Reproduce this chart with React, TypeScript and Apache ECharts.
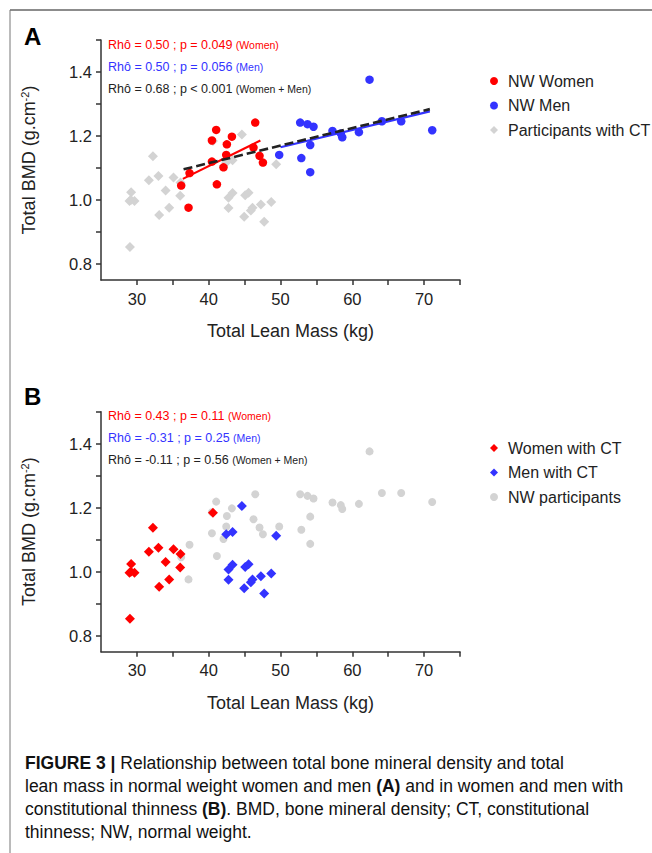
import React, { useEffect, useRef } from "react";
import * as echarts from "echarts";

// ---------- data ----------
const xTicks = [30, 35, 40, 45, 50, 55, 60, 65, 70, 75];
const xLabels = [30, 40, 50, 60, 70];
const yTicks = [0.8, 0.9, 1.0, 1.1, 1.2, 1.3, 1.4, 1.5];
const yLabels = [0.8, 1.0, 1.2, 1.4];

// normal weight women: [lean mass kg, BMD]
const nwWomen = [
  [36.17, 1.045], [37.33, 1.084], [37.19, 0.976], [40.45, 1.186], [41.04, 1.219],
  [40.45, 1.12], [41.14, 1.049], [42.53, 1.174], [43.23, 1.198], [42.44, 1.141],
  [42.06, 1.102], [46.48, 1.242], [46.24, 1.164], [47.08, 1.138], [47.55, 1.117],
];
// normal weight men
const nwMen = [
  [49.82, 1.141], [52.74, 1.242], [53.76, 1.237], [54.6, 1.229], [54.14, 1.172],
  [52.9, 1.131], [54.14, 1.087], [62.4, 1.376], [57.24, 1.216], [58.4, 1.208],
  [58.6, 1.196], [60.92, 1.212], [64.12, 1.246], [66.81, 1.246], [71.13, 1.218],
];
// constitutional thinness women
const ctWomen = [
  [40.59, 1.184], [32.23, 1.137], [31.67, 1.062], [33.0, 1.075], [35.1, 1.07],
  [36.07, 1.055], [34.0, 1.03], [36.03, 1.013], [29.2, 1.024], [29.17, 1.0],
  [29.67, 0.997], [28.97, 0.997], [34.5, 0.976], [33.1, 0.953], [29.03, 0.853],
];
// constitutional thinness men
const ctMen = [
  [44.62, 1.205], [43.32, 1.124], [42.44, 1.117], [49.4, 1.112], [43.32, 1.022],
  [42.76, 1.007], [45.08, 1.015], [45.55, 1.023], [42.76, 0.975], [46.1, 0.976],
  [45.87, 0.967], [47.27, 0.986], [48.71, 0.994], [44.94, 0.948], [47.73, 0.932],
];

// regression lines (panel A)
const womenFit = [[36.4, 1.066], [47.2, 1.186]];
const menFit = [[50.0, 1.165], [70.8, 1.277]];
const allFit = [[36.5, 1.096], [70.8, 1.284]];

const statsA = [
  ["Rhô = 0.50 ; p = 0.049 ", "(Women)"],
  ["Rhô = 0.50 ; p = 0.056 ", "(Men)"],
  ["Rhô = 0.68 ; p < 0.001 ", "(Women + Men)"],
];
const statsB = [
  ["Rhô = 0.43 ; p = 0.11 ", "(Women)"],
  ["Rhô = -0.31 ; p = 0.25 ", "(Men)"],
  ["Rhô = -0.11 ; p = 0.56 ", "(Women + Men)"],
];

const legendA = ["NW Women", "NW Men", "Participants with CT"];
const legendB = ["Women with CT", "Men with CT", "NW participants"];

const xName = "Total Lean Mass (kg)";
const panelLabels = ["A", "B"];

// caption: segments [text, bold]
const captionLines: [string, boolean][][] = [
  [["FIGURE 3 | ", true], ["Relationship between total bone mineral density and total", false]],
  [["lean mass in normal weight women and men ", false], ["(A)", true], [" and in women and men with", false]],
  [["constitutional thinness ", false], ["(B)", true], [". BMD, bone mineral density; CT, constitutional", false]],
  [["thinness; NW, normal weight.", false]],
];

// ---------- styles ----------
const FONT = "'Liberation Sans', Arial, Helvetica, sans-serif";
const RED = "#ff0000";
const BLUE = "#3333ff";
const GRAY = "#d3d3d3";
const DARK = "#222222";
const statColors = [RED, BLUE, DARK];

function makeAxes(i: number) {
  const x = {
    gridIndex: i,
    type: "value",
    min: 25,
    max: 75,
    name: xName,
    nameLocation: "middle",
    nameGap: 42,
    nameTextStyle: { fontSize: 18, color: DARK, fontFamily: FONT, padding: [0, 0, 0, 20] },
    axisLine: { show: true, onZero: false, lineStyle: { color: "#333", width: 1.5 } },
    axisTick: { show: true, length: 5, customValues: xTicks, lineStyle: { color: "#333", width: 1.5 } },
    axisLabel: { customValues: xLabels, fontSize: 16.5, color: DARK, fontFamily: FONT, margin: 10 },
    splitLine: { show: false },
  };
  const y = {
    gridIndex: i,
    type: "value",
    min: 0.75,
    max: 1.5,
    name: "{a|Total BMD (g.cm}{s|-2}{a|)}",
    nameLocation: "middle",
    nameRotate: 90,
    nameGap: 62,
    nameTextStyle: {
      rich: {
        a: { fontSize: 18, color: DARK, fontFamily: FONT, lineHeight: 20 },
        s: { fontSize: 11, color: DARK, fontFamily: FONT, verticalAlign: "top", lineHeight: 20 },
      },
    },
    axisLine: { show: true, onZero: false, lineStyle: { color: "#333", width: 1.5 } },
    axisTick: { show: true, length: 5, customValues: yTicks, lineStyle: { color: "#333", width: 1.5 } },
    axisLabel: {
      customValues: yLabels,
      fontSize: 16.5,
      color: DARK,
      fontFamily: FONT,
      margin: 9,
      formatter: (v: number) => v.toFixed(1),
    },
    splitLine: { show: false },
  };
  return { x, y };
}

function statTexts(lines: string[][], top: number) {
  return lines.map((l, k) => ({
    type: "text",
    x: 108,
    y: top + k * 22,
    style: {
      text: `{m|${l[0]}}{s|${l[1]}}`,
      verticalAlign: "middle",
      rich: {
        m: { fontSize: 12.5, fill: statColors[k], fontFamily: FONT },
        s: { fontSize: 10.5, fill: statColors[k], fontFamily: FONT },
      },
    },
  }));
}

function legendCfg(data: string[], top: number) {
  return {
    data,
    orient: "vertical",
    left: 485,
    top,
    itemWidth: 8,
    itemHeight: 8,
    itemGap: 8.5,
    selectedMode: false,
    textStyle: { fontSize: 16, color: DARK, fontFamily: FONT, padding: [0, 0, 0, 5] },
  };
}

export default function App() {
  const ref = useRef<HTMLDivElement>(null);
  useEffect(() => {
    document.body.style.margin = "0";
    if (!ref.current) return;
    const chart = echarts.init(ref.current, null, { renderer: "svg" });
    const a0 = makeAxes(0);
    const a1 = makeAxes(1);

    const scatter = (name: string, data: number[][], sym: string, color: string, size: number, xi: number) => ({
      name,
      type: "scatter",
      xAxisIndex: xi,
      yAxisIndex: xi,
      data,
      symbol: sym,
      symbolSize: size,
      itemStyle: { color, opacity: 1 },
      emphasis: { disabled: true },
    });
    const fit = (data: number[][], color: string, dashed: boolean) => ({
      type: "line",
      xAxisIndex: 0,
      yAxisIndex: 0,
      data,
      symbol: "none",
      silent: true,
      lineStyle: { color, width: dashed ? 2.6 : 2.2, type: dashed ? [9, 4] : "solid" },
      z: 3,
    });

    const option: any = {
      animation: false,
      backgroundColor: "#ffffff",
      grid: [
        { left: 101, top: 40, width: 359, height: 240 },
        { left: 101, top: 411.7, width: 359, height: 240 },
      ],
      xAxis: [a0.x, a1.x],
      yAxis: [a0.y, a1.y],
      legend: [legendCfg(legendA, 68), legendCfg(legendB, 435)],
      series: [
        scatter(legendA[2], [...ctWomen, ...ctMen], "diamond", GRAY, 10, 0),
        scatter(legendA[0], nwWomen, "circle", RED, 8.5, 0),
        scatter(legendA[1], nwMen, "circle", BLUE, 8.5, 0),
        fit(womenFit, RED, false),
        fit(menFit, BLUE, false),
        fit(allFit, "#222", true),
        scatter(legendB[2], [...nwWomen, ...nwMen], "circle", GRAY, 8, 1),
        scatter(legendB[0], ctWomen, "diamond", RED, 10, 1),
        scatter(legendB[1], ctMen, "diamond", BLUE, 10, 1),
      ],
      graphic: [
        { type: "line", shape: { x1: 10, y1: 10, x2: 652, y2: 10 }, style: { stroke: "#666", lineWidth: 1.5 } },
        { type: "line", shape: { x1: 10, y1: 10, x2: 10, y2: 853 }, style: { stroke: "#777", lineWidth: 1 } },
        {
          type: "text",
          x: 24,
          y: 36,
          style: { text: panelLabels[0], fontSize: 24, fontWeight: "bold", fill: "#000", fontFamily: FONT, verticalAlign: "middle" },
        },
        {
          type: "text",
          x: 24,
          y: 396,
          style: { text: panelLabels[1], fontSize: 24, fontWeight: "bold", fill: "#000", fontFamily: FONT, verticalAlign: "middle" },
        },
        ...statTexts(statsA, 45),
        ...statTexts(statsB, 416),
        ...captionLines.map((segs, k) => ({
          type: "text",
          x: 25,
          y: 763 + k * 23,
          style: {
            text: segs.map((s) => `{${s[1] ? "b" : "n"}|${s[0]}}`).join(""),
            verticalAlign: "middle",
            rich: {
              b: { fontSize: 17.5, fontWeight: "bold", fill: "#111", fontFamily: FONT },
              n: { fontSize: 17.5, fill: "#111", fontFamily: FONT },
            },
          },
        })),
      ],
    };
    chart.setOption(option);
    return () => chart.dispose();
  }, []);
  return <div ref={ref} style={{ width: 652, height: 853 }} />;
}
